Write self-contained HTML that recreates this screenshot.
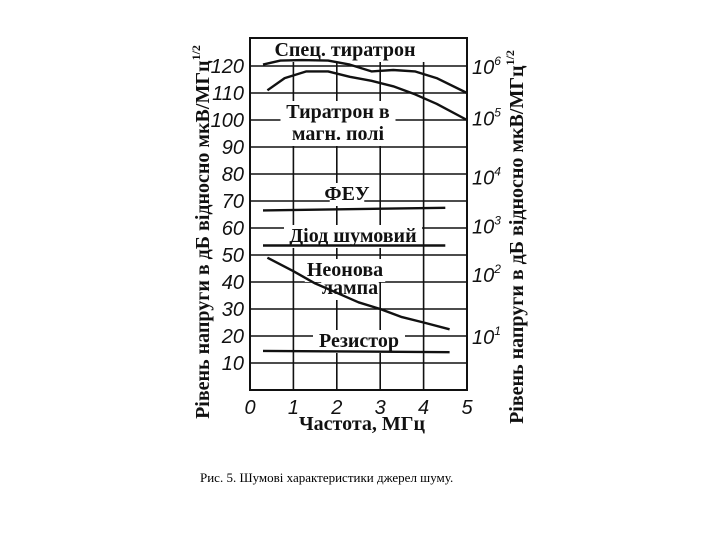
<!DOCTYPE html>
<html><head><meta charset="utf-8"><style>
body{margin:0;background:#fff;width:720px;height:540px;overflow:hidden}
svg{display:block}
.t{font-family:"Liberation Sans",sans-serif;font-style:italic;font-size:20px;fill:#111}
.b{font-family:"Liberation Serif",serif;font-weight:bold;font-size:20px;fill:#111}
</style></head><body>
<svg id="c" width="720" height="540">
<rect width="720" height="540" fill="#fff"/>
<g id="grid"></g><g id="labels"></g><g id="curves"></g>
<text class="b" transform="translate(209,232) rotate(-90)" text-anchor="middle" font-size="19">Рівень напруги в дБ відносно мкВ/МГц<tspan dy="-9" font-size="12">1/2</tspan></text>
<text class="b" transform="translate(523,237) rotate(-90)" text-anchor="middle" font-size="19">Рівень напруги в дБ відносно мкВ/МГц<tspan dy="-9" font-size="12">1/2</tspan></text>
<text class="b" x="362" y="430" text-anchor="middle">Частота, МГц</text>
<text x="200" y="482" font-family="Liberation Serif,serif" font-size="13">Рис. 5. Шумові характеристики джерел шуму.</text>
</svg>
<script>
const xTicks=[0,1,2,3,4,5];
const yTicks=[10,20,30,40,50,60,70,80,90,100,110,120];
const rightExp=['6','5','4','3','2','1'];
const rightVals=[120,101,79,61,43,20];
const specX=[0.3,0.7,1.2,1.8,2.3,2.8,3.3,3.8,4.3,5];
const specY=[120.5,122,122.2,122,120.5,118,118.5,118,115.5,110];
const magX=[0.4,0.8,1.3,1.8,2.3,2.8,3.3,3.8,4.3,5];
const magY=[111,115.5,118,118,116,114.5,112.5,109.5,106,100];
const feuX=[0.3,4.5];const feuY=[66.5,67.5];
const diodX=[0.3,4.5];const diodY=[53.5,53.5];
const neonX=[0.4,1,1.5,2,2.5,3,3.5,4,4.6];
const neonY=[49,44,39.5,36,32.5,30,27,25,22.5];
const resX=[0.3,4.6];const resY=[14.5,14];
const X=v=>250+v*43.4, Y=v=>390-v*2.7;
const NS='http://www.w3.org/2000/svg';
function mk(t,a,p){const e=document.createElementNS(NS,t);for(const k in a)e.setAttribute(k,a[k]);p.appendChild(e);return e;}
const g=document.getElementById('grid');
let r=mk('rect',{x:X(0),y:38,width:X(5)-X(0),height:Y(0)-38,fill:'none',stroke:'#111','stroke-width':2},g);


yTicks.forEach(v=>{const l=mk('line',{x1:X(0),x2:X(5),y1:Y(v),y2:Y(v),stroke:'#111','stroke-width':1.6},g);


const t=mk('text',{x:X(0)-6,y:Y(v)+7,'text-anchor':'end',class:'t'},g);t.textContent=v;

});
xTicks.forEach(v=>{if(v>0&&v<5){const l=mk('line',{x1:X(v),x2:X(v),y1:38,y2:Y(0),stroke:'#111','stroke-width':1.6},g);

}
const t=mk('text',{x:X(v),y:Y(0)+24,'text-anchor':'middle',class:'t'},g);t.textContent=v;

});
rightExp.forEach((e,i)=>{const t=mk('text',{x:X(5)+5,y:Y(rightVals[i])+8,class:'t'},g);t.textContent='10';


const s=mk('tspan',{dy:-9,'font-size':12},t);s.textContent=e;});
const cg=document.getElementById('curves');
function curve(xs,ys,name){let d='';xs.forEach((x,i)=>{d+=(i?'L':'M')+X(x).toFixed(1)+' '+Y(ys[i]).toFixed(1);});
const p=mk('path',{d:d,fill:'none',stroke:'#111','stroke-width':2.4,'stroke-linejoin':'round'},cg);

}
const lg=document.getElementById('labels');
function lab(x,y,s,name){const bb=s.length*11.5;mk('rect',{x:x-bb/2,y:y-17,width:bb,height:23,fill:'#fff'},lg);
const t=mk('text',{x:x,y:y,'text-anchor':'middle',class:'b'},lg);t.textContent=s;

}
lab(345,56,'Спец. тиратрон','label-spec-thyratron');
lab(338,118,'Тиратрон в','label-thyratron-magnetic');
lab(338,140,'магн. полі','label-thyratron-magnetic-2');
lab(347,200,'ФЕУ','label-feu');
lab(353,242,'Діод шумовий','label-diode');
lab(345,276,'Неонова','label-neon');
lab(350,294,'лампа','label-neon-2');
lab(359,347,'Резистор','label-resistor');
curve(specX,specY,'spec-thyratron-line');
curve(magX,magY,'thyratron-magnetic-line');
curve(feuX,feuY,'feu-line');
curve(diodX,diodY,'diode-line');
curve(neonX,neonY,'neon-lamp-line');
curve(resX,resY,'resistor-line');
</script>
</body></html>
